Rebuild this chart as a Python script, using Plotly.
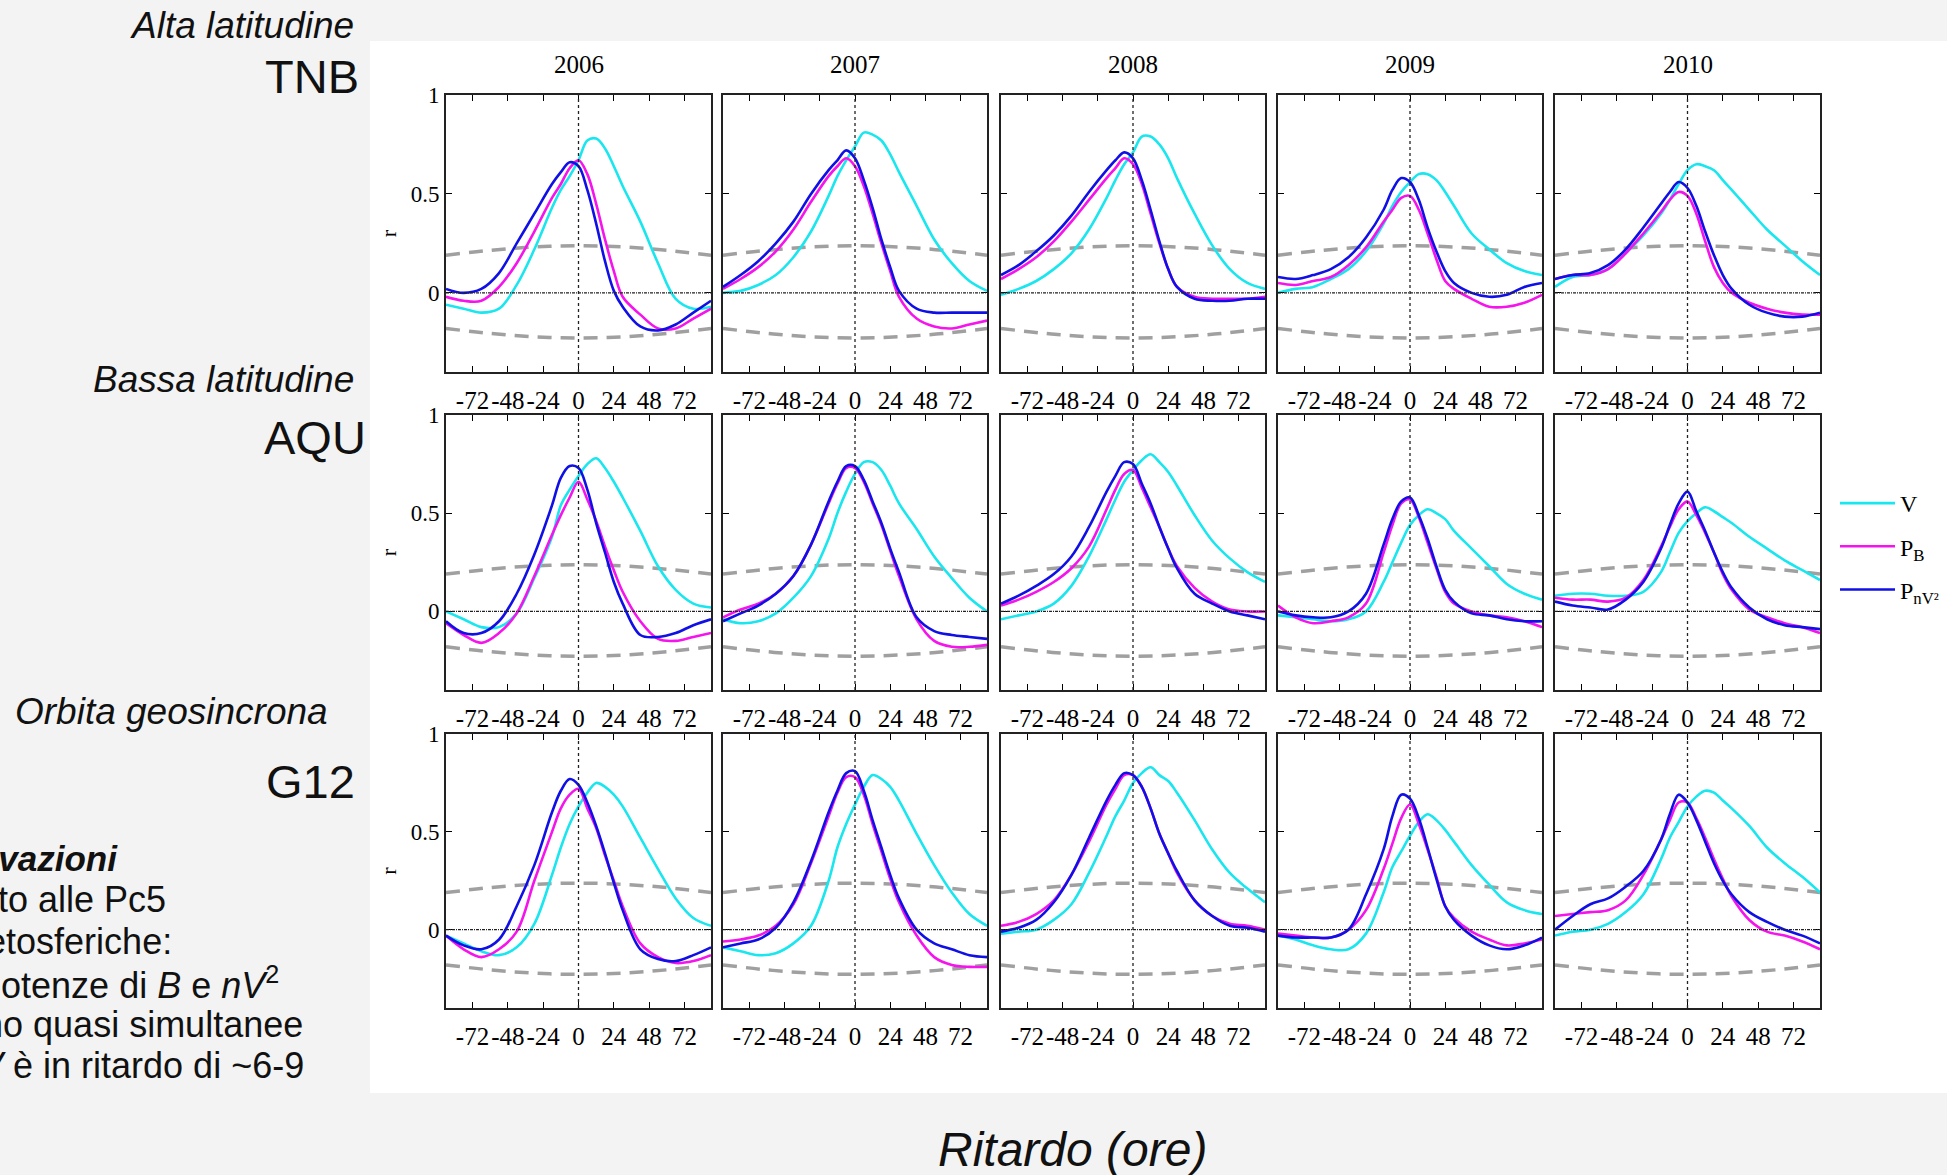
import plotly.graph_objects as go

# ---------------- data ----------------
lags = [-90, -78, -66, -54, -42, -30, -18, -12, -6, 0, 6, 12, 18, 24, 30, 42, 54, 66, 78, 90]
years = ["2006", "2007", "2008", "2009", "2010"]
stations = ["TNB", "AQU", "G12"]
x_ticks = [-72, -48, -24, 0, 24, 48, 72]
y_ticks = [0, 0.5, 1]

# significance levels (grey dashed)
band_lags = [-90, -60, -30, 0, 30, 60, 90]
band_upper = [0.19, 0.215, 0.232, 0.238, 0.232, 0.215, 0.19]
band_lower = [-0.18, -0.205, -0.222, -0.228, -0.222, -0.205, -0.18]

V_TNB = [
    [-0.06, -0.08, -0.10, -0.08, 0.04, 0.22, 0.43, 0.52, 0.59, 0.67, 0.77, 0.78, 0.73, 0.64, 0.54, 0.36, 0.15, -0.03, -0.08, -0.07],
    [0.00, 0.01, 0.04, 0.09, 0.18, 0.31, 0.49, 0.59, 0.67, 0.74, 0.81, 0.80, 0.77, 0.70, 0.61, 0.44, 0.27, 0.15, 0.06, 0.01],
    [-0.01, 0.02, 0.06, 0.12, 0.20, 0.32, 0.48, 0.57, 0.65, 0.71, 0.79, 0.79, 0.75, 0.68, 0.58, 0.40, 0.24, 0.12, 0.05, 0.02],
    [0.00, 0.02, 0.03, 0.07, 0.12, 0.21, 0.35, 0.44, 0.51, 0.56, 0.60, 0.60, 0.57, 0.51, 0.44, 0.30, 0.22, 0.15, 0.11, 0.09],
    [0.03, 0.08, 0.09, 0.12, 0.20, 0.29, 0.40, 0.47, 0.55, 0.62, 0.65, 0.64, 0.62, 0.57, 0.52, 0.42, 0.32, 0.24, 0.16, 0.09],
]
PB_TNB = [
    [-0.02, -0.04, -0.04, 0.03, 0.15, 0.31, 0.48, 0.55, 0.63, 0.67, 0.60, 0.45, 0.27, 0.11, -0.02, -0.11, -0.18, -0.18, -0.13, -0.08],
    [0.02, 0.07, 0.13, 0.21, 0.32, 0.46, 0.59, 0.64, 0.68, 0.64, 0.54, 0.40, 0.25, 0.11, -0.02, -0.13, -0.17, -0.18, -0.16, -0.14],
    [0.07, 0.12, 0.18, 0.26, 0.36, 0.47, 0.58, 0.63, 0.68, 0.65, 0.55, 0.40, 0.25, 0.12, 0.03, -0.02, -0.03, -0.03, -0.03, -0.02],
    [0.05, 0.04, 0.06, 0.08, 0.14, 0.23, 0.36, 0.42, 0.48, 0.49, 0.42, 0.30, 0.17, 0.06, 0.02, -0.03, -0.07, -0.07, -0.05, -0.01],
    [0.07, 0.09, 0.09, 0.12, 0.20, 0.30, 0.41, 0.47, 0.51, 0.49, 0.40, 0.26, 0.13, 0.05, 0.00, -0.05, -0.08, -0.10, -0.11, -0.11],
]
PN_TNB = [
    [0.02, 0.00, 0.02, 0.10, 0.25, 0.40, 0.55, 0.61, 0.66, 0.64, 0.52, 0.35, 0.16, 0.01, -0.07, -0.17, -0.19, -0.16, -0.10, -0.04],
    [0.03, 0.09, 0.16, 0.25, 0.36, 0.50, 0.62, 0.67, 0.72, 0.68, 0.57, 0.43, 0.27, 0.13, 0.01, -0.08, -0.10, -0.10, -0.10, -0.10],
    [0.09, 0.14, 0.21, 0.29, 0.39, 0.51, 0.62, 0.67, 0.71, 0.68, 0.57, 0.42, 0.26, 0.12, 0.03, -0.03, -0.04, -0.04, -0.03, -0.03],
    [0.08, 0.07, 0.09, 0.12, 0.18, 0.28, 0.42, 0.52, 0.58, 0.56, 0.47, 0.33, 0.21, 0.11, 0.05, 0.00, -0.02, -0.01, 0.03, 0.05],
    [0.07, 0.09, 0.10, 0.14, 0.22, 0.33, 0.45, 0.51, 0.56, 0.53, 0.44, 0.31, 0.19, 0.09, 0.02, -0.06, -0.10, -0.12, -0.12, -0.10],
]

V_AQU = [
    [0.00, -0.04, -0.08, -0.08, -0.01, 0.17, 0.38, 0.54, 0.62, 0.69, 0.75, 0.78, 0.73, 0.66, 0.58, 0.41, 0.23, 0.11, 0.04, 0.02],
    [-0.04, -0.06, -0.05, -0.01, 0.07, 0.18, 0.37, 0.50, 0.61, 0.70, 0.76, 0.76, 0.72, 0.64, 0.55, 0.42, 0.28, 0.17, 0.07, 0.00],
    [-0.04, -0.02, 0.00, 0.04, 0.13, 0.28, 0.47, 0.57, 0.66, 0.72, 0.77, 0.80, 0.76, 0.71, 0.64, 0.49, 0.36, 0.27, 0.20, 0.15],
    [-0.02, -0.03, -0.04, -0.05, -0.04, 0.00, 0.15, 0.25, 0.35, 0.44, 0.49, 0.52, 0.50, 0.47, 0.41, 0.32, 0.23, 0.14, 0.09, 0.06],
    [0.08, 0.09, 0.09, 0.08, 0.08, 0.10, 0.20, 0.30, 0.40, 0.46, 0.50, 0.53, 0.51, 0.48, 0.45, 0.38, 0.32, 0.26, 0.21, 0.16],
]
PB_AQU = [
    [-0.06, -0.12, -0.16, -0.11, -0.01, 0.18, 0.39, 0.49, 0.58, 0.66, 0.57, 0.46, 0.33, 0.21, 0.10, -0.05, -0.14, -0.15, -0.13, -0.11],
    [-0.03, 0.01, 0.04, 0.09, 0.18, 0.34, 0.55, 0.65, 0.73, 0.73, 0.66, 0.55, 0.44, 0.31, 0.18, -0.04, -0.15, -0.18, -0.18, -0.17],
    [0.03, 0.06, 0.10, 0.15, 0.22, 0.33, 0.52, 0.62, 0.70, 0.72, 0.63, 0.53, 0.43, 0.32, 0.23, 0.12, 0.05, 0.01, 0.00, 0.00],
    [0.03, -0.03, -0.06, -0.05, -0.03, 0.04, 0.30, 0.44, 0.55, 0.57, 0.48, 0.35, 0.22, 0.10, 0.04, 0.00, -0.02, -0.03, -0.05, -0.08],
    [0.07, 0.06, 0.06, 0.05, 0.07, 0.16, 0.33, 0.43, 0.52, 0.56, 0.49, 0.40, 0.30, 0.19, 0.11, 0.01, -0.03, -0.06, -0.08, -0.11],
]
PN_AQU = [
    [-0.05, -0.11, -0.11, -0.05, 0.09, 0.29, 0.54, 0.68, 0.74, 0.73, 0.62, 0.45, 0.30, 0.15, 0.04, -0.12, -0.13, -0.11, -0.07, -0.04],
    [-0.05, -0.01, 0.03, 0.09, 0.18, 0.34, 0.56, 0.66, 0.74, 0.74, 0.67, 0.56, 0.45, 0.32, 0.20, -0.03, -0.10, -0.12, -0.13, -0.14],
    [0.04, 0.08, 0.13, 0.19, 0.28, 0.43, 0.61, 0.69, 0.76, 0.75, 0.65, 0.55, 0.43, 0.32, 0.22, 0.09, 0.04, 0.00, -0.02, -0.04],
    [0.00, -0.02, -0.03, -0.03, 0.00, 0.09, 0.34, 0.47, 0.56, 0.58, 0.49, 0.37, 0.23, 0.11, 0.05, -0.01, -0.02, -0.04, -0.05, -0.05],
    [0.05, 0.03, 0.02, 0.01, 0.06, 0.15, 0.32, 0.44, 0.55, 0.61, 0.51, 0.41, 0.30, 0.20, 0.12, 0.02, -0.04, -0.07, -0.08, -0.09],
]

V_G12 = [
    [-0.03, -0.07, -0.11, -0.13, -0.09, 0.03, 0.28, 0.42, 0.54, 0.63, 0.70, 0.75, 0.73, 0.69, 0.63, 0.47, 0.31, 0.16, 0.06, 0.02],
    [-0.09, -0.11, -0.13, -0.12, -0.07, 0.02, 0.25, 0.42, 0.54, 0.64, 0.73, 0.79, 0.77, 0.73, 0.66, 0.49, 0.33, 0.19, 0.08, 0.02],
    [-0.02, -0.01, 0.00, 0.05, 0.13, 0.29, 0.48, 0.58, 0.66, 0.75, 0.80, 0.83, 0.79, 0.76, 0.70, 0.56, 0.41, 0.29, 0.21, 0.14],
    [-0.03, -0.05, -0.08, -0.10, -0.10, -0.02, 0.19, 0.32, 0.40, 0.48, 0.55, 0.59, 0.56, 0.51, 0.45, 0.33, 0.23, 0.14, 0.10, 0.08],
    [-0.03, -0.01, 0.00, 0.03, 0.09, 0.18, 0.36, 0.47, 0.55, 0.63, 0.68, 0.71, 0.70, 0.66, 0.62, 0.53, 0.42, 0.34, 0.27, 0.19],
]
PB_G12 = [
    [-0.03, -0.10, -0.14, -0.10, -0.01, 0.25, 0.50, 0.62, 0.69, 0.72, 0.62, 0.52, 0.38, 0.25, 0.12, -0.07, -0.14, -0.17, -0.16, -0.13],
    [-0.06, -0.05, -0.03, 0.02, 0.13, 0.34, 0.58, 0.70, 0.78, 0.78, 0.69, 0.54, 0.40, 0.26, 0.14, -0.03, -0.14, -0.18, -0.19, -0.19],
    [0.02, 0.04, 0.08, 0.15, 0.28, 0.45, 0.64, 0.72, 0.79, 0.79, 0.73, 0.62, 0.49, 0.39, 0.29, 0.15, 0.07, 0.03, 0.02, 0.00],
    [-0.02, -0.03, -0.04, -0.04, 0.00, 0.10, 0.31, 0.44, 0.57, 0.64, 0.54, 0.41, 0.27, 0.12, 0.06, -0.01, -0.05, -0.08, -0.07, -0.05],
    [0.07, 0.08, 0.09, 0.10, 0.15, 0.28, 0.46, 0.56, 0.65, 0.65, 0.57, 0.47, 0.36, 0.26, 0.17, 0.05, -0.01, -0.03, -0.06, -0.10],
]
PN_G12 = [
    [-0.03, -0.08, -0.10, -0.05, 0.12, 0.33, 0.60, 0.71, 0.77, 0.74, 0.65, 0.53, 0.39, 0.24, 0.10, -0.10, -0.15, -0.16, -0.13, -0.09],
    [-0.09, -0.07, -0.05, 0.01, 0.14, 0.35, 0.60, 0.71, 0.80, 0.81, 0.71, 0.56, 0.42, 0.28, 0.16, 0.00, -0.07, -0.10, -0.13, -0.14],
    [-0.01, 0.01, 0.05, 0.14, 0.28, 0.47, 0.66, 0.74, 0.80, 0.79, 0.73, 0.62, 0.49, 0.39, 0.30, 0.15, 0.07, 0.02, 0.01, -0.01],
    [-0.03, -0.04, -0.04, -0.04, 0.00, 0.18, 0.41, 0.58, 0.69, 0.67, 0.57, 0.42, 0.26, 0.12, 0.05, -0.03, -0.08, -0.10, -0.08, -0.04],
    [0.00, 0.07, 0.13, 0.16, 0.22, 0.30, 0.46, 0.59, 0.69, 0.65, 0.56, 0.45, 0.34, 0.25, 0.18, 0.09, 0.04, 0.00, -0.03, -0.07],
]

series = {
    "TNB": (V_TNB, PB_TNB, PN_TNB),
    "AQU": (V_AQU, PB_AQU, PN_AQU),
    "G12": (V_G12, PB_G12, PN_G12),
}
series_names = ["V", "P<sub>B</sub>", "P<sub>nV²</sub>"]
series_colors = ["#19e6ee", "#f514ec", "#1010e6"]

# ---------------- layout geometry (pixels) ----------------
W, H = 1947, 1175
col_px = [(446, 711), (723, 987), (1001, 1265), (1278, 1542), (1555, 1820)]
row_px = [(95, 372), (415, 690), (734, 1008)]

SERIF = "Liberation Serif, Times New Roman, serif"
SANS = "Liberation Sans, Arial, sans-serif"

fig = go.Figure()
layout = {}
shapes = []
annotations = []

for r, st in enumerate(stations):
    for c, yr in enumerate(years):
        k = r * 5 + c + 1
        xn = "x" if k == 1 else f"x{k}"
        yn = "y" if k == 1 else f"y{k}"
        for yb in (band_upper, band_lower):
            fig.add_trace(go.Scatter(
                x=band_lags, y=yb, mode="lines", line_shape="spline",
                line=dict(color="#a0a0a0", width=3.5, dash="14px,9px"),
                xaxis=xn, yaxis=yn, showlegend=False, hoverinfo="skip"))
        for s in range(3):
            fig.add_trace(go.Scatter(
                x=lags, y=series[st][s][c], mode="lines", line_shape="spline",
                line=dict(color=series_colors[s], width=2.6),
                name=series_names[s], legendgroup=str(s),
                showlegend=(k == 1), xaxis=xn, yaxis=yn))
        x0, x1 = col_px[c]
        y0, y1 = row_px[r]
        layout["xaxis" if k == 1 else f"xaxis{k}"] = dict(
            domain=[x0 / W, x1 / W], anchor=yn, range=[-90, 90],
            tickmode="array", tickvals=x_ticks, ticktext=[str(t) for t in x_ticks],
            tickangle=0, automargin=False,
            ticks="inside", ticklen=6, tickwidth=1.3, tickcolor="black",
            mirror="ticks", showline=True, linecolor="#222", linewidth=1.6,
            showgrid=False, zeroline=False, ticklabelstandoff=5,
            tickfont=dict(family=SERIF, size=25, color="black"))
        ydict = dict(
            domain=[1 - y1 / H, 1 - y0 / H], anchor=xn, range=[-0.4, 1],
            tickmode="array", tickvals=y_ticks, ticktext=["0", "0.5", "1"],
            showticklabels=(c == 0), automargin=False,
            ticks="inside", ticklen=6, tickwidth=1.3, tickcolor="black",
            mirror="ticks", showline=True, linecolor="#222", linewidth=1.6,
            showgrid=False, zeroline=False,
            tickfont=dict(family=SERIF, size=23, color="black"))
        if c == 0:
            ydict["title"] = dict(text="r", standoff=8, font=dict(family=SERIF, size=22, color="black"))
        layout["yaxis" if k == 1 else f"yaxis{k}"] = ydict
        xd = "x domain" if k == 1 else f"x{k} domain"
        yd = "y domain" if k == 1 else f"y{k} domain"
        shapes.append(dict(type="line", xref=xn, yref=yd, x0=0, x1=0, y0=0, y1=1,
                           line=dict(color="#222", width=1.3, dash="dot")))
        shapes.append(dict(type="line", xref=xd, yref=yn, x0=0, x1=1, y0=0, y1=0,
                           line=dict(color="#222", width=1.3, dash="3px,1px,1px,1px")))

# year titles
for c, yr in enumerate(years):
    x0, x1 = col_px[c]
    annotations.append(dict(text=yr, x=(x0 + x1) / 2 / W, y=1 - 65 / H, xref="paper", yref="paper",
                            showarrow=False, xanchor="center", yanchor="middle",
                            font=dict(family=SERIF, size=25, color="black")))

def label(text, xr, yc, size, italic=False, bold=False):
    t = text
    if italic:
        t = f"<i>{t}</i>"
    if bold:
        t = f"<b>{t}</b>"
    annotations.append(dict(text=t, x=xr / W, y=1 - yc / H, xref="paper", yref="paper",
                            showarrow=False, xanchor="right", yanchor="middle",
                            font=dict(family=SANS, size=size, color="#111")))

label("Alta latitudine", 356, 26, 37, italic=True)
label("TNB", 361, 76, 47)
label("Bassa latitudine", 356, 379, 37, italic=True)
label("AQU", 368, 437, 47)
label("Orbita geosincrona", 330, 711, 37, italic=True)
label("G12", 357, 781, 47)

body = [
    ("Osservazioni", 120, True),
    ("Rispetto alle Pc5", 168, False),
    ("magnetosferiche:", 174, False),
    ("le potenze di <i>B</i> e <i>nV</i><sup>2</sup>", 281, False),
    ("sono quasi simultanee", 305, False),
    ("<i>V</i> è in ritardo di ~6-9", 306, False),
]
for i, (t, xr, b) in enumerate(body):
    if b:
        label(t, xr, 858 + 41.5 * i, 35, italic=True, bold=True)
    else:
        label(t, xr, 858 + 41.5 * i, 36)

annotations.append(dict(text="<i>Ritardo (ore)</i>", x=1072 / W, y=1 - 1149 / H, xref="paper", yref="paper",
                        showarrow=False, xanchor="center", yanchor="middle",
                        font=dict(family=SANS, size=48, color="#111")))

# white picture background
shapes.insert(0, dict(type="rect", xref="paper", yref="paper", layer="below",
                      x0=370 / W, x1=1.0, y0=1 - 1093 / H, y1=1 - 41 / H,
                      fillcolor="white", line=dict(width=0)))

fig.update_layout(
    width=W, height=H, margin=dict(l=0, r=0, t=0, b=0, pad=0, autoexpand=False),
    paper_bgcolor="#f3f3f3", plot_bgcolor="white",
    shapes=shapes, annotations=annotations,
    showlegend=True,
    legend=dict(x=1835 / W, y=1 - 481 / H, xanchor="left", yanchor="top",
                bgcolor="rgba(0,0,0,0)", font=dict(family=SERIF, size=24, color="black"),
                itemwidth=55, tracegroupgap=9),
    **layout,
)

fig.write_html("out.html", config={"displayModeBar": False},
               post_script="document.body.style.margin='0';document.body.style.padding='0';"
                           "document.body.style.overflow='hidden';")
